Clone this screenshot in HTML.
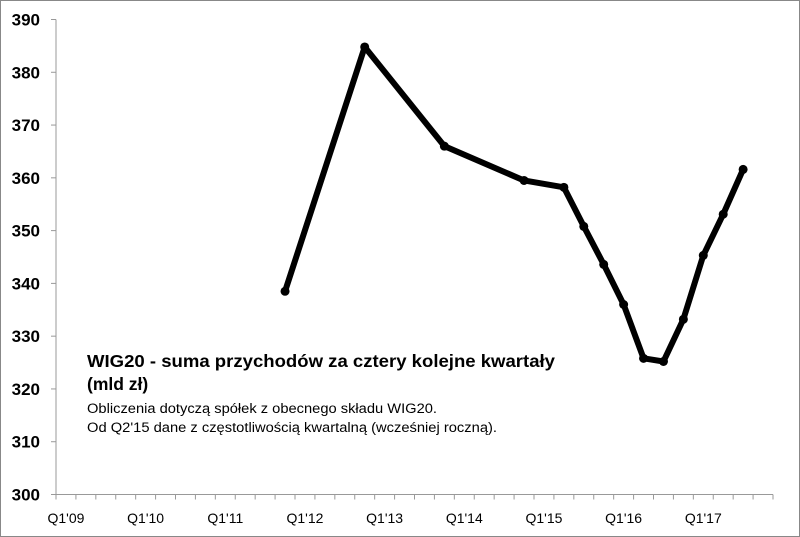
<!DOCTYPE html>
<html><head><meta charset="utf-8"><style>
body{margin:0;background:#fff}
svg{display:block;font-family:"Liberation Sans",sans-serif}
</style></head><body>
<svg width="800" height="537" id="c">
<rect x="0.5" y="0.5" width="799" height="536" fill="#fff" stroke="#888"/>
<g id="axes"></g>
<g id="series"></g>
<g>
<text x="87" y="367" font-size="17.5" font-weight="bold" fill="#000" textLength="468" lengthAdjust="spacingAndGlyphs">WIG20 - suma przychodów za cztery kolejne kwartały</text>
<text x="87" y="390" font-size="17.5" font-weight="bold" fill="#000">(mld zł)</text>
<text x="87" y="413" font-size="13.5" fill="#000" textLength="350" lengthAdjust="spacingAndGlyphs">Obliczenia dotyczą spółek z obecnego składu WIG20.</text>
<text x="87" y="432" font-size="13.5" fill="#000" textLength="410" lengthAdjust="spacingAndGlyphs">Od Q2'15 dane z częstotliwością kwartalną (wcześniej roczną).</text>
</g>
</svg>
<script>
const yTicks=[300,310,320,330,340,350,360,370,380,390];
const xLabels=["Q1'09","Q1'10","Q1'11","Q1'12","Q1'13","Q1'14","Q1'15","Q1'16","Q1'17"];
const qIndex=[11,15,19,23,25,26,27,28,29,30,31,32,33,34];
const values=[338.5,384.8,366.0,359.5,358.2,350.8,343.6,336.0,325.8,325.2,333.2,345.3,353.1,361.6];
const NS="http://www.w3.org/2000/svg";
const x0=56,x1=773,nQ=36,yTop=19.5,yBot=494.5,yMin=300,yMax=390;
const qw=(x1-x0)/nQ;
const X=i=>x0+qw*(i+0.5);
const Y=v=>yBot-(v-yMin)/(yMax-yMin)*(yBot-yTop);
function mk(t,a,p){const e=document.createElementNS(NS,t);for(const k in a)e.setAttribute(k,a[k]);p.appendChild(e);return e;}
const ax=document.getElementById('axes');
const ya=mk('line',{x1:x0,x2:x0,y1:yTop,y2:yBot,stroke:'#999'},ax);


const xa=mk('line',{x1:x0,x2:x1,y1:yBot,y2:yBot,stroke:'#999'},ax);


yTicks.forEach(v=>{
 mk('line',{x1:x0-5,x2:x0,y1:Y(v),y2:Y(v),stroke:'#999'},ax);
 const t=mk('text',{x:40,y:Y(v)+6,'text-anchor':'end','font-size':'17','font-weight':'bold'},ax);
 t.textContent=v;
 
 
});
for(let i=0;i<=nQ;i++)mk('line',{x1:x0+qw*i,x2:x0+qw*i,y1:yBot,y2:yBot+5,stroke:'#999'},ax);
xLabels.forEach((l,k)=>{
 const t=mk('text',{x:X(k*4),y:523,'text-anchor':'middle','font-size':'14'},ax);
 t.textContent=l;
 
 
});
const s=document.getElementById('series');
const pl=mk('polyline',{points:qIndex.map((q,i)=>X(q)+','+Y(values[i])).join(' '),fill:'none',stroke:'#000','stroke-width':6,'stroke-linejoin':'round'},s);


qIndex.forEach((q,i)=>{
 const c=mk('circle',{cx:X(q),cy:Y(values[i]),r:4.5,fill:'#000'},s);
 
 
});
</script>
</body></html>
